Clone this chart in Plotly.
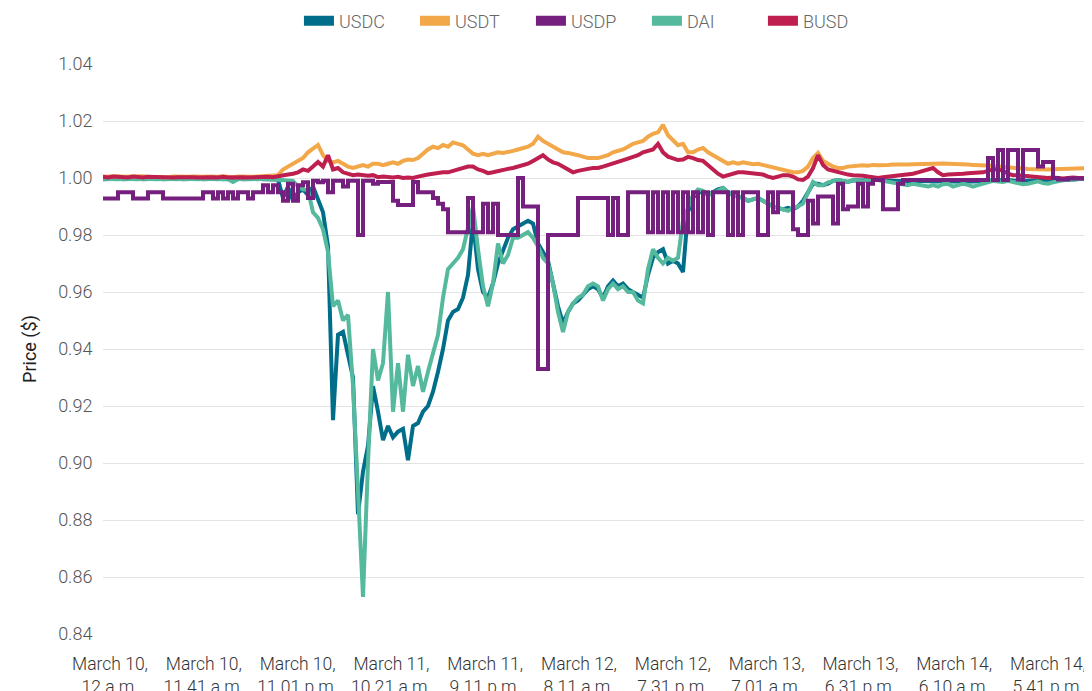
import plotly.graph_objects as go

# ---------------- data (sampled left to right, equal steps) ----------------
tick_labels = ["March 10,<br>12 a.m.", "March 10,<br>11.41 a.m.", "March 10,<br>11.01 p.m.",
               "March 11,<br>10.21 a.m.", "March 11,<br>9.11 p.m.", "March 12,<br>8.11 a.m.",
               "March 12,<br>7.31 p.m.", "March 13,<br>7.01 a.m.", "March 13,<br>6.31 p.m.",
               "March 14,<br>6.10 a.m.", "March 14,<br>5.41 p.m."]

usdt = [1.0004, 1.0005, 1.0003, 1.0006, 1.0004, 1.0005, 1.0003, 1.0004, 1.0006, 1.0004,
        1.0003, 1.0005, 1.0004, 1.0003, 1.0005, 1.0004, 1.0003, 1.0004, 1.0005, 1.0003,
        1.0004, 1.0005, 1.0003, 1.0004, 1.0006, 1.0004, 1.0003, 1.0005, 1.0004, 1.0005,
        1.0004, 1.0005, 1.0006, 1.0005, 1.0007, 1.001, 1.003, 1.004, 1.005, 1.006,
        1.007, 1.009, 1.0105, 1.0116, 1.008, 1.006, 1.0055, 1.006, 1.005, 1.004,
        1.0035, 1.004, 1.0045, 1.004, 1.005, 1.005, 1.0045, 1.005, 1.0055, 1.005,
        1.006, 1.0065, 1.0063, 1.007, 1.0085, 1.010, 1.011, 1.0105, 1.0116, 1.011,
        1.0125, 1.012, 1.0115, 1.010, 1.0085, 1.008, 1.0085, 1.008, 1.0085, 1.009,
        1.0088, 1.009, 1.0095, 1.010, 1.0105, 1.011, 1.012, 1.0145, 1.013, 1.012,
        1.011, 1.010, 1.009, 1.0088, 1.0085, 1.008, 1.0075, 1.007, 1.007, 1.007,
        1.0075, 1.008, 1.009, 1.0095, 1.010, 1.011, 1.012, 1.0125, 1.013, 1.0145,
        1.0155, 1.016, 1.0186, 1.015, 1.013, 1.0115, 1.012, 1.009, 1.009, 1.010,
        1.0105, 1.009, 1.008, 1.007, 1.006, 1.005, 1.0055, 1.005, 1.0055, 1.005,
        1.0048, 1.005, 1.0046, 1.004, 1.0038, 1.0035, 1.003, 1.0025, 1.002, 1.002,
        1.0025, 1.004, 1.007, 1.0088, 1.006, 1.005, 1.004, 1.0035, 1.0035, 1.004,
        1.0042, 1.0044, 1.0045, 1.0043, 1.0046, 1.0045, 1.0044, 1.0046, 1.0047, 1.0046,
        1.0046, 1.0047, 1.0048, 1.0049, 1.005, 1.005, 1.0049, 1.005, 1.0051, 1.005,
        1.005, 1.0049, 1.0048, 1.0047, 1.0046, 1.0046, 1.0045, 1.0044, 1.0042, 1.004,
        1.0038, 1.0036, 1.0035, 1.0034, 1.0033, 1.0032, 1.0031, 1.003, 1.003, 1.003,
        1.0031, 1.0032, 1.0033, 1.0034, 1.0035, 1.0035, 1.0034, 1.0035]

busd = [1.0004, 1.0002, 1.0005, 1.0003, 1.0004, 1.0002, 1.0005, 1.0003, 1.0002, 1.0004,
        1.0003, 1.0002, 1.0004, 1.0003, 1.0002, 1.0003, 1.0004, 1.0002, 1.0003, 1.0002,
        1.0003, 1.0002, 1.0003, 1.0002, 1.0004, 1.0002, 1.0003, 1.0002, 1.0003, 1.0002,
        1.0003, 1.0004, 1.0002, 1.0004, 1.0003, 1.0005, 1.001, 1.0012, 1.0015, 1.002,
        1.003, 1.0025, 1.004, 1.0056, 1.004, 1.008, 1.003, 1.0035, 1.002, 1.0015,
        1.001, 1.0012, 1.001, 1.0008, 1.001, 1.0003, 1.0005, 1.0003, 1.0002, 1.0004,
        1.0, 1.0002, 1.0, 1.0005, 1.001, 1.0012, 1.0015, 1.0018, 1.002, 1.002,
        1.0025, 1.003, 1.0035, 1.004, 1.004, 1.003, 1.0025, 1.0017, 1.002, 1.0025,
        1.003, 1.0032, 1.0035, 1.004, 1.0045, 1.005, 1.006, 1.007, 1.008, 1.0065,
        1.0055, 1.005, 1.004, 1.003, 1.002, 1.0025, 1.003, 1.0032, 1.0035, 1.0035,
        1.004, 1.0045, 1.005, 1.0055, 1.006, 1.0068, 1.0074, 1.008, 1.009, 1.0095,
        1.010, 1.012, 1.009, 1.0075, 1.007, 1.0063, 1.0065, 1.0074, 1.007, 1.0063,
        1.006, 1.0045, 1.003, 1.0015, 1.0005, 1.001, 1.0015, 1.002, 1.002, 1.0018,
        1.0017, 1.0017, 1.0012, 1.0005, 1.0, 1.0005, 1.001, 1.001, 1.0005, 0.9995,
        0.9993, 1.0005, 1.0035, 1.008, 1.0046, 1.003, 1.0025, 1.002, 1.0015, 1.0012,
        1.001, 1.001, 1.0008, 1.0005, 1.0002, 1.0, 1.0003, 1.0005, 1.0008, 1.001,
        1.001, 1.0012, 1.0015, 1.002, 1.0025, 1.003, 1.0035, 1.002, 1.001, 1.0012,
        1.0012, 1.0015, 1.0015, 1.0017, 1.0017, 1.0018, 1.002, 1.0025, 1.003, 1.003,
        1.0025, 1.0015, 1.001, 1.001, 1.0008, 1.0005, 1.0003, 1.0002, 1.0, 1.0,
        1.0002, 1.0, 0.9998, 1.0, 1.0002, 1.0, 1.0001, 1.0]

usdp = [0.9928, 0.9928, 0.9928, 0.995, 0.995, 0.995, 0.9928, 0.9928, 0.9928, 0.995,
        0.995, 0.995, 0.9928, 0.9928, 0.9928, 0.9928, 0.9928, 0.9928, 0.9928, 0.9928,
        0.995, 0.995, 0.9928, 0.995, 0.9928, 0.995, 0.9928, 0.995, 0.995, 0.9928,
        0.995, 0.995, 0.9975, 0.995, 0.9975, 0.995, 0.992, 0.998, 0.992, 0.9975,
        0.9985, 0.993, 0.999, 0.9985, 0.999, 0.995, 0.999, 0.999, 0.997, 0.999,
        0.999, 0.980, 0.999, 0.999, 0.998, 0.9986, 0.9986, 0.9986, 0.992, 0.9905,
        0.9905, 0.9905, 0.9986, 0.995, 0.995, 0.995, 0.993, 0.991, 0.989, 0.981,
        0.981, 0.981, 0.981, 0.993, 0.981, 0.981, 0.991, 0.981, 0.991, 0.980,
        0.980, 0.980, 0.980, 1.000, 0.990, 0.990, 0.990, 0.933, 0.933, 0.980,
        0.980, 0.980, 0.980, 0.980, 0.980, 0.993, 0.993, 0.993, 0.993, 0.993,
        0.993, 0.980, 0.993, 0.980, 0.980, 0.995, 0.995, 0.995, 0.995, 0.981,
        0.995, 0.981, 0.995, 0.981, 0.995, 0.981, 0.995, 0.981, 0.995, 0.981,
        0.995, 0.980, 0.995, 0.995, 0.995, 0.980, 0.995, 0.980, 0.995, 0.995,
        0.995, 0.980, 0.980, 0.995, 0.988, 0.995, 0.995, 0.995, 0.982, 0.980,
        0.980, 0.992, 0.984, 0.9935, 0.9935, 0.9935, 0.984, 0.998, 0.989, 0.990,
        0.990, 0.998, 0.990, 0.998, 0.9993, 0.9993, 0.989, 0.989, 0.989, 0.998,
        0.9993, 0.9993, 0.9993, 0.9993, 0.9993, 0.9993, 0.9993, 0.9993, 0.9993, 0.9993,
        0.9993, 0.9993, 0.9993, 0.9993, 0.9993, 0.9993, 0.9993, 1.007, 0.9993, 1.0098,
        0.9993, 1.0098, 1.0098, 0.9995, 1.0098, 1.0098, 1.0098, 1.004, 1.0056, 1.0056,
        1.000, 0.9995, 0.9995, 0.9998, 0.9998, 0.9998, 0.9998, 0.9998]

usdc = [0.9996, 0.9997, 0.9996, 0.9997, 0.9996, 0.9997, 0.9996, 0.9997, 0.9996, 0.9997,
        0.9996, 0.9997, 0.9996, 0.9997, 0.9996, 0.9997, 0.9996, 0.9997, 0.9996, 0.9997,
        0.9996, 0.9997, 0.9996, 0.9997, 0.9996, 0.9997, 0.9996, 0.9997, 0.9996, 0.9997,
        0.9996, 0.9997, 0.9996, 0.9995, 0.9996, 0.9995, 0.993, 0.997, 0.992, 0.995,
        0.996, 0.994, 0.997, 0.992, 0.988, 0.976, 0.915, 0.945, 0.946, 0.938,
        0.930, 0.882, 0.897, 0.906, 0.927, 0.918, 0.908, 0.913, 0.909, 0.911,
        0.912, 0.901, 0.913, 0.914, 0.918, 0.920, 0.925, 0.932, 0.940, 0.950,
        0.953, 0.954, 0.958, 0.966, 0.985, 0.968, 0.960, 0.958, 0.963, 0.970,
        0.975, 0.979, 0.982, 0.983, 0.984, 0.985, 0.984, 0.977, 0.974, 0.971,
        0.963, 0.955, 0.949, 0.953, 0.956, 0.957, 0.959, 0.961, 0.962, 0.961,
        0.958, 0.962, 0.964, 0.962, 0.963, 0.961, 0.960, 0.959, 0.958, 0.966,
        0.972, 0.974, 0.975, 0.970, 0.971, 0.970, 0.967, 0.988, 0.993, 0.995,
        0.995, 0.994, 0.995, 0.996, 0.9965, 0.995, 0.994, 0.9935, 0.993, 0.992,
        0.9925, 0.993, 0.992, 0.991, 0.990, 0.9895, 0.989, 0.9895, 0.989, 0.990,
        0.992, 0.995, 0.998, 0.998, 0.9975, 0.998, 0.999, 0.9993, 0.9988, 0.9986,
        0.9992, 0.999, 0.9991, 0.9993, 0.9995, 0.9993, 0.9992, 0.999, 0.9991, 0.999,
        0.9989, 0.9988, 0.999, 0.9989, 0.9988, 0.9987, 0.9989, 0.9988, 0.999, 0.9991,
        0.9988, 0.9989, 0.999, 0.9989, 0.9988, 0.9989, 0.999, 0.9992, 0.9993, 0.9992,
        0.9991, 0.9993, 0.9991, 0.999, 0.9989, 0.999, 0.9991, 0.9992, 0.999, 0.9991,
        0.9992, 0.9993, 0.9994, 0.9996, 0.9995, 0.9997, 0.9998, 1.0]

dai = [0.9997, 0.9996, 0.9997, 0.9996, 0.9997, 0.9996, 0.9997, 0.9996, 0.9997, 0.9996,
       0.9997, 0.9996, 0.9997, 0.9996, 0.9997, 0.9996, 0.9997, 0.9996, 0.9997, 0.9996,
       0.9997, 0.9996, 0.9997, 0.9996, 0.9997, 0.9996, 0.9986, 0.9996, 0.9997, 0.9996,
       0.9997, 0.9996, 0.9997, 0.9996, 0.9997, 0.9995, 0.9995, 0.9993, 0.999, 0.997,
       0.996, 0.9958, 0.988, 0.986, 0.982, 0.974, 0.955, 0.957, 0.950, 0.952,
       0.927, 0.890, 0.853, 0.900, 0.940, 0.929, 0.935, 0.960, 0.918, 0.935,
       0.918, 0.938, 0.927, 0.934, 0.925, 0.932, 0.938, 0.945, 0.958, 0.968,
       0.970, 0.972, 0.975, 0.982, 0.990, 0.975, 0.962, 0.955, 0.963, 0.977,
       0.970, 0.973, 0.979, 0.979, 0.980, 0.981, 0.979, 0.976, 0.972, 0.970,
       0.963, 0.953, 0.946, 0.953, 0.956, 0.958, 0.959, 0.962, 0.963, 0.962,
       0.957, 0.961, 0.963, 0.961, 0.962, 0.960, 0.960, 0.957, 0.956, 0.968,
       0.975, 0.972, 0.970, 0.972, 0.971, 0.972, 0.985, 0.990, 0.994, 0.996,
       0.9955, 0.994, 0.9947, 0.9955, 0.9965, 0.995, 0.994, 0.9935, 0.993, 0.992,
       0.9925, 0.993, 0.992, 0.991, 0.990, 0.9895, 0.989, 0.9885, 0.9895, 0.990,
       0.991, 0.9947, 0.9986, 0.9975, 0.9975, 0.9985, 0.999, 0.9993, 0.999, 0.9986,
       0.9993, 0.999, 0.9988, 0.9993, 0.9995, 0.9993, 0.999, 0.9988, 0.9986, 0.998,
       0.9978, 0.9975, 0.998, 0.9976, 0.9972, 0.997, 0.9975, 0.997, 0.9978, 0.998,
       0.997, 0.9975, 0.998, 0.9976, 0.997, 0.9975, 0.998, 0.9985, 0.999, 0.9988,
       0.9986, 0.999, 0.9985, 0.998, 0.9978, 0.998, 0.9985, 0.9988, 0.9982, 0.998,
       0.9985, 0.999, 0.9992, 0.9995, 0.9993, 0.9996, 0.9998, 1.0]

series = [("USDC", usdc, "#006e8a", "linear"),
          ("DAI", dai, "#55b99e", "linear"),
          ("USDT", usdt, "#f2a749", "linear"),
          ("BUSD", busd, "#bf1f4f", "linear"),
          ("USDP", usdp, "#751f7e", "hv")]
legend_order = ["USDC", "USDT", "USDP", "DAI", "BUSD"]
y_ticks = [0.84, 0.86, 0.88, 0.90, 0.92, 0.94, 0.96, 0.98, 1.00, 1.02, 1.04]

# ---------------- figure ----------------
fig = go.Figure()
for name, vals, color, shape in series:
    fig.add_trace(go.Scatter(x=list(range(len(vals))), y=vals, mode="lines", name=name,
                             line=dict(color=color, width=4, shape=shape),
                             showlegend=False, hoverinfo="skip"))
colors = {n: c for n, _, c, _ in series}
for n in legend_order:
    fig.add_trace(go.Scatter(x=[None], y=[None], mode="lines", name=n,
                             line=dict(color=colors[n], width=14)))

tickvals = [1.4 + 18.76 * k for k in range(len(tick_labels))]

# the page body adds an 8 px offset; margins compensate for it
fig.update_layout(
    width=1092, height=691,
    margin=dict(l=95, r=0, t=56, b=65, autoexpand=False),
    paper_bgcolor="white", plot_bgcolor="white",
    font=dict(family="Roboto, Inter, sans-serif", color="#333333", size=17),
    legend=dict(orientation="h", xref="container", x=0.532, xanchor="center",
                yref="paper", y=1.0754, yanchor="middle",
                font=dict(size=18, color="#666666", weight=300),
                itemwidth=30, entrywidth=71, traceorder="normal"),
    xaxis=dict(range=[0, 199.4], tickmode="array", tickvals=tickvals, ticktext=tick_labels,
               showgrid=False, zeroline=False, showline=False, ticks="outside",
               ticklen=14, tickcolor="rgba(0,0,0,0)",
               tickfont=dict(size=17.5, color="#333333", weight=300)),
    yaxis=dict(range=[0.84, 1.04], tickmode="array", tickvals=y_ticks,
               tickformat=".2f", showgrid=True, gridcolor="#e3e3e3", gridwidth=1.2,
               zeroline=False, showline=False, ticks="outside", ticklen=6,
               tickcolor="rgba(0,0,0,0)", tickfont=dict(size=18, color="#555555", weight=300),
               title=dict(text="Price ($)", font=dict(size=18, color="#222222"), standoff=16)),
    shapes=[dict(type="line", xref="paper", x0=0, x1=1, yref="y", y0=y_ticks[0], y1=y_ticks[0],
                 line=dict(color="white", width=3), layer="between")],
)
fig.write_html("out.html")
